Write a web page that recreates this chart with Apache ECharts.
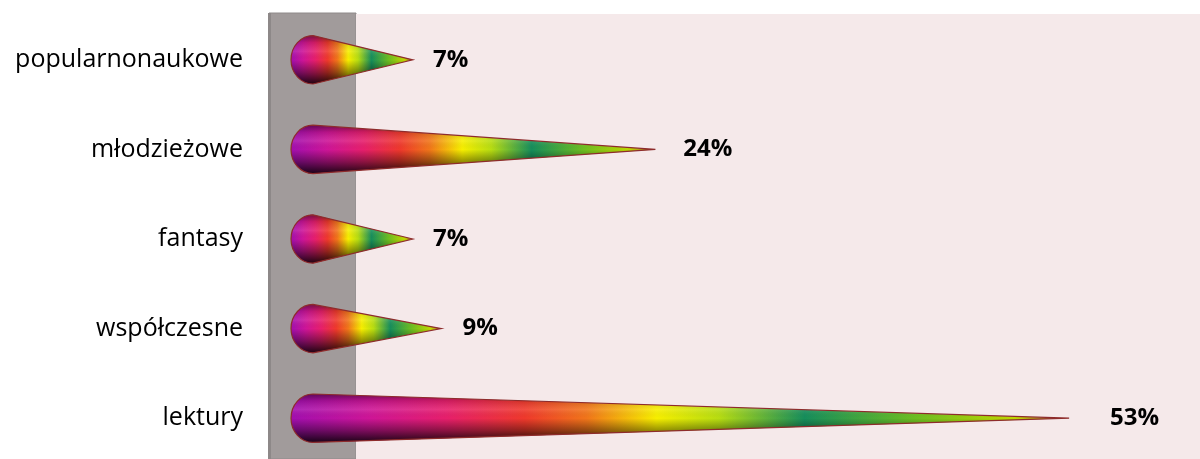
<!DOCTYPE html>
<html>
<head>
<meta charset="utf-8">
<script src="https://cdn.jsdelivr.net/npm/echarts@6/dist/echarts.min.js"></script>
<style>html,body{margin:0;padding:0;background:#fff}#c{width:1200px;height:459px}</style>
</head>
<body>
<div id="c"></div>
<script>
const categories = ['popularnonaukowe', 'młodzieżowe', 'fantasy', 'współczesne', 'lektury'];
const values = [7, 24, 7, 9, 53];
const labels = ['7%', '24%', '7%', '9%', '53%'];

const chart = echarts.init(document.getElementById('c'));

const rainbow = [
  {offset: 0, color: '#a30fb0'},
  {offset: 0.1, color: '#cf1598'},
  {offset: 0.2, color: '#e81f6c'},
  {offset: 0.3, color: '#f0392c'},
  {offset: 0.38, color: '#f2761a'},
  {offset: 0.47, color: '#f8f000'},
  {offset: 0.55, color: '#b8de12'},
  {offset: 0.66, color: '#168e5c'},
  {offset: 0.8, color: '#6cbe22'},
  {offset: 0.93, color: '#c0d800'},
  {offset: 1, color: '#a85a30'}
];
const shade = [
  {offset: 0, color: 'rgba(0,0,0,0.5)'},
  {offset: 0.15, color: 'rgba(0,0,0,0.12)'},
  {offset: 0.33, color: 'rgba(255,255,255,0.1)'},
  {offset: 0.5, color: 'rgba(0,0,0,0.0)'},
  {offset: 0.75, color: 'rgba(0,0,0,0.4)'},
  {offset: 1, color: 'rgba(0,0,0,0.88)'}
];

function renderCone(params, api) {
  const v = api.value(0);
  const idx = api.value(1);
  const tip = api.coord([v, idx]);
  const base = api.coord([0, idx]);
  const ry = api.size([0, 1])[1] * 0.27;
  const rx = 22;
  const k = 0.5523;
  const cx = base[0], cy = base[1];
  const d = 'M' + tip[0] + ' ' + tip[1] +
    ' L' + cx + ' ' + (cy - ry) +
    ' C' + (cx - k * rx) + ' ' + (cy - ry) + ' ' + (cx - rx) + ' ' + (cy - k * ry) + ' ' + (cx - rx) + ' ' + cy +
    ' C' + (cx - rx) + ' ' + (cy + k * ry) + ' ' + (cx - k * rx) + ' ' + (cy + ry) + ' ' + cx + ' ' + (cy + ry) +
    ' Z';
  const gap = 17 + 0.45 * v;
  return {
    type: 'group',
    children: [
      {type: 'path', shape: {pathData: d},
       style: {fill: new echarts.graphic.LinearGradient(0, 0, 1, 0, rainbow), stroke: null}},
      {type: 'path', shape: {pathData: d},
       style: {fill: new echarts.graphic.LinearGradient(0, 0, 0, 1, shade), stroke: '#8e2c2c', lineWidth: 1.2}},
      {type: 'text', x: tip[0] + gap, y: tip[1],
       style: {text: labels[idx], fill: '#000', font: 'bold 24px "Open Sans", sans-serif',
               textAlign: 'left', textVerticalAlign: 'middle'}}
    ]
  };
}

chart.setOption({
  animation: false,
  backgroundColor: '#ffffff',
  graphic: [
    {type: 'rect', z: 0, shape: {x: 269, y: 13, width: 87, height: 446},
     style: {fill: '#a19b9b', stroke: '#8f8a8a', lineWidth: 1}},
    {type: 'rect', z: 0, shape: {x: 268, y: 13, width: 3, height: 446},
     style: {fill: '#8d8888'}},
    {type: 'rect', z: 0, shape: {x: 356, y: 14, width: 844, height: 445},
     style: {fill: '#f5e9ea'}}
  ],
  grid: {left: 313, right: 31, top: 15, height: 448, containLabel: false, outerBoundsMode: 'none'},
  xAxis: {type: 'value', min: 0, max: 60, show: false},
  yAxis: {
    type: 'category', data: categories, inverse: true,
    axisLine: {show: false}, axisTick: {show: false}, splitLine: {show: false},
    axisLabel: {margin: 70, color: '#000', fontSize: 25, fontFamily: '"Open Sans", sans-serif'}
  },
  series: [{
    type: 'custom',
    z: 5,
    renderItem: renderCone,
    encode: {x: 0, y: 1},
    data: values.map((v, i) => [v, i])
  }]
});
</script>
</body>
</html>
